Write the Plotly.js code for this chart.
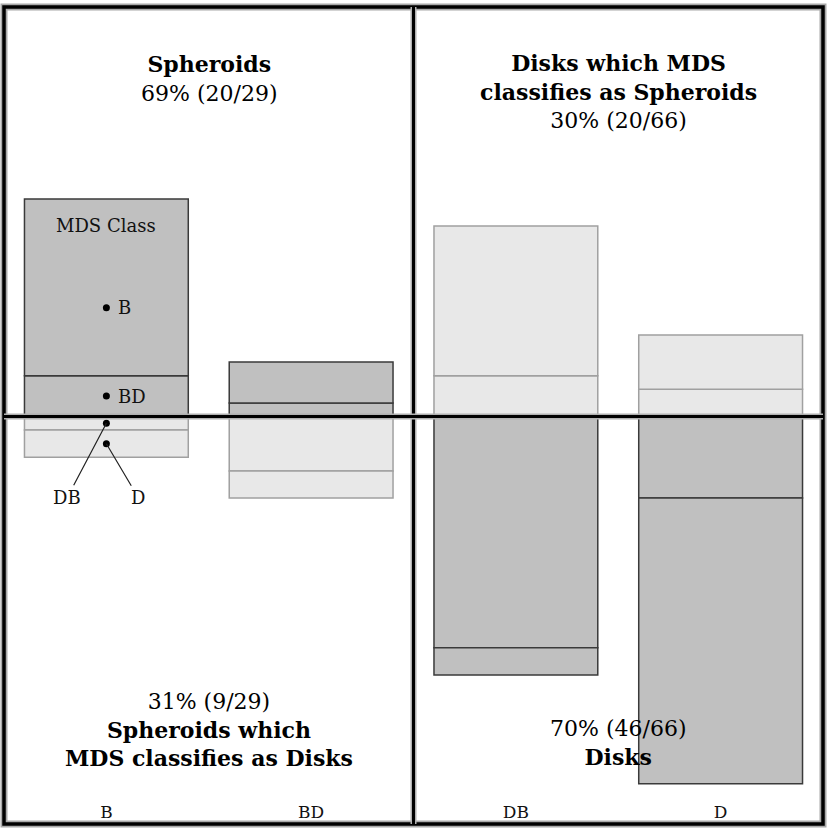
<!DOCTYPE html>
<html>
<head>
<meta charset="utf-8">
<script src="https://cdn.plot.ly/plotly-3.0.1.min.js"></script>
<style>
  body { margin: 0; background: #fff; }
  #myDiv { width: 830px; height: 830px; }
</style>
</head>
<body>
<div id="myDiv"></div>
<script>
// human class (columns) and MDS class counts (segments)
var classes = ['B', 'BD', 'DB', 'D'];
var mdsB  = [13, 3, 11, 4];
var mdsBD = [3, 1, 3, 2];
var mdsDB = [1, 4, 17, 6];
var mdsD  = [2, 2, 2, 21];

var dark = '#c0c0c0', light = '#e8e8e8';
var darkLine = '#3a3a3a', lightLine = '#a0a0a0';
var upFill = [dark, dark, light, light];
var upLine = [darkLine, darkLine, lightLine, lightLine];
var downFill = [light, light, dark, dark];
var downLine = [lightLine, lightLine, darkLine, darkLine];

function neg(a) { return a.map(function (v) { return -v; }); }

function bar(name, y, fill, line) {
    return {
        type: 'bar', name: name, x: classes, y: y,
        marker: {color: fill, line: {color: line, width: 1.5}},
        hoverinfo: 'x+name'
    };
}

// stacking order: nearest the centre line first
var trBD = bar('BD', mdsBD, upFill, upLine);
var trB  = bar('B', mdsB, upFill, upLine);
var trDB = bar('DB', neg(mdsDB), downFill, downLine);
var trD  = bar('D', neg(mdsD), downFill, downLine);

// key dots in the B column, at the middle of each segment
var keyDots = {
    type: 'scatter', mode: 'markers', hoverinfo: 'skip',
    x: ['B', 'B', 'B', 'B'],
    y: [mdsBD[0] + mdsB[0] / 2 - 1.5, mdsBD[0] / 2, -mdsDB[0] / 2, -mdsDB[0] - mdsD[0] / 2],
    marker: {color: 'black', size: 7}
};

var data = [trBD, trB, trDB, trD, keyDots];

var serif = 'DejaVu Serif, serif';
function block(txt, x, y) {
    return {xref: 'paper', yref: 'paper', x: x, y: y, text: txt, showarrow: false,
            xanchor: 'center', yanchor: 'middle',
            font: {family: serif, size: 22, color: 'black'}, align: 'center'};
}

var annotations = [
    block('<b>Spheroids</b><br>69% (20/29)', 0.25, 0.912),
    block('<b>Disks which MDS</b><br><b>classifies as Spheroids</b><br>30% (20/66)', 0.75, 0.896),
    block('31% (9/29)<br><b>Spheroids which</b><br><b>MDS classifies as Disks</b>', 0.25, 0.115),
    block('70% (46/66)<br><b>Disks</b>', 0.75, 0.099),
    {xref: 'x', yref: 'y', x: 'B', y: mdsB[0] + mdsBD[0], yanchor: 'top', yshift: -14,
     text: 'MDS Class', showarrow: false, font: {family: serif, size: 18, color: '#111'}},
    {xref: 'x', yref: 'y', x: 'B', y: keyDots.y[0], xanchor: 'left', xshift: 10,
     text: 'B', showarrow: false, font: {family: serif, size: 18, color: '#111'}},
    {xref: 'x', yref: 'y', x: 'B', y: keyDots.y[1], xanchor: 'left', xshift: 10,
     text: 'BD', showarrow: false, font: {family: serif, size: 18, color: '#111'}},
    {xref: 'x', yref: 'y', x: 'B', y: keyDots.y[2], ax: -39, ay: 74,
     text: 'DB', showarrow: true, arrowhead: 0, arrowwidth: 1.2, arrowcolor: '#222',
     font: {family: serif, size: 18, color: '#111'}},
    {xref: 'x', yref: 'y', x: 'B', y: keyDots.y[3], ax: 32, ay: 54,
     text: 'D', showarrow: true, arrowhead: 0, arrowwidth: 1.2, arrowcolor: '#222',
     font: {family: serif, size: 18, color: '#111'}}
];

var shapes = [
    // grey shadow then black frame
    {type: 'rect', xref: 'paper', yref: 'paper', x0: 0, x1: 1, y0: 0, y1: 1,
     line: {color: '#a8a8a8', width: 7}, layer: 'above'},
    {type: 'rect', xref: 'paper', yref: 'paper', x0: 0, x1: 1, y0: 0, y1: 1,
     line: {color: 'black', width: 3.5}, layer: 'above'},
    {type: 'line', xref: 'x', yref: 'paper', x0: 1.5, x1: 1.5, y0: 0, y1: 1,
     line: {color: '#b0b0b0', width: 6}, layer: 'above'},
    {type: 'line', xref: 'x', yref: 'paper', x0: 1.5, x1: 1.5, y0: 0, y1: 1,
     line: {color: 'black', width: 3}, layer: 'above'},
    {type: 'line', xref: 'paper', yref: 'y', x0: 0, x1: 1, y0: 0, y1: 0,
     line: {color: '#b0b0b0', width: 6}, layer: 'above'},
    {type: 'line', xref: 'paper', yref: 'y', x0: 0, x1: 1, y0: 0, y1: 0,
     line: {color: 'black', width: 3}, layer: 'above'}
];

var layout = {
    width: 830, height: 830,
    margin: {l: 4, r: 7, t: 7, b: 6},
    paper_bgcolor: 'white', plot_bgcolor: 'white',
    barmode: 'relative', bargap: 0.2,
    showlegend: false,
    xaxis: {
        type: 'category', range: [-0.5, 3.5], showgrid: false, zeroline: false,
        showline: false, ticks: '', ticklabelposition: 'inside',
        tickfont: {family: serif, size: 17, color: '#111'}, fixedrange: true
    },
    yaxis: {
        range: [-29.96, 30.11], showgrid: false, zeroline: false,
        showticklabels: false, ticks: '', fixedrange: true
    },
    annotations: annotations,
    shapes: shapes
};

Plotly.newPlot('myDiv', data, layout, {displayModeBar: false, staticPlot: true});
</script>
</body>
</html>
